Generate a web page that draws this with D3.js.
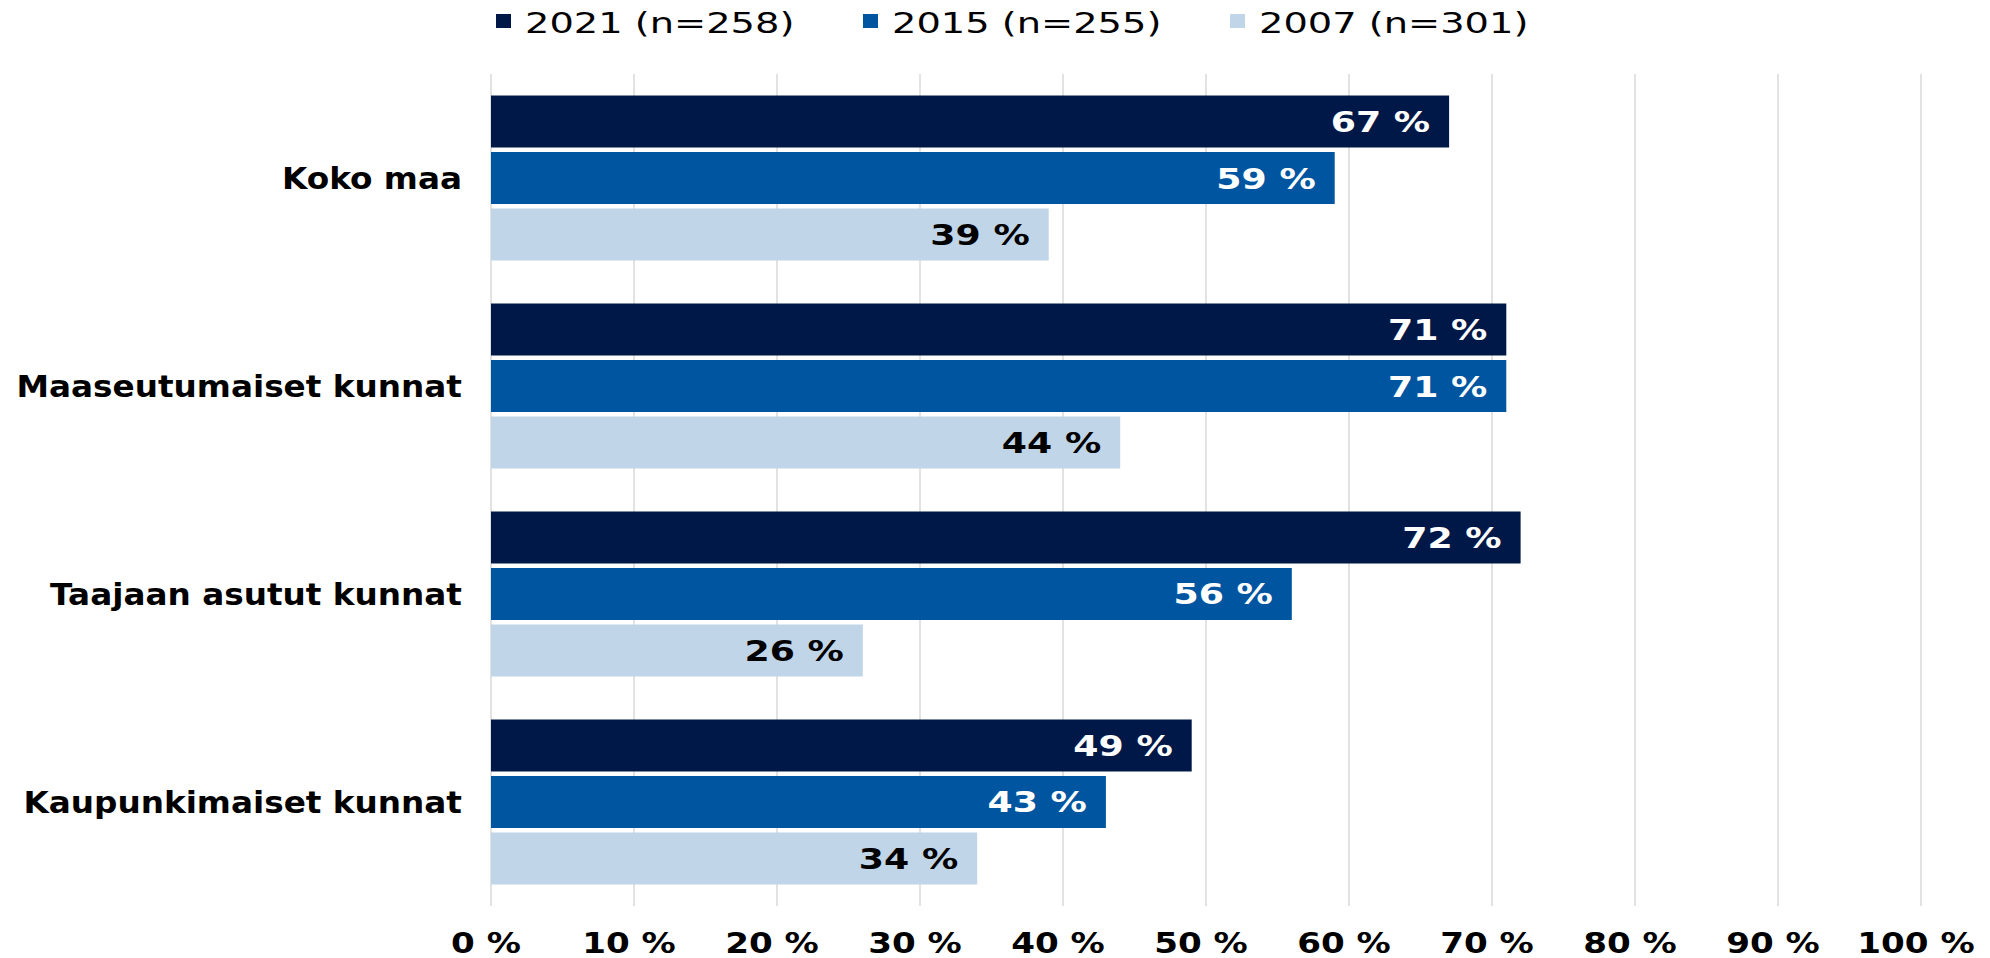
<!DOCTYPE html>
<html>
<head>
<meta charset="utf-8">
<script src="https://cdn.jsdelivr.net/npm/d3@7"></script>
<style>
  html, body { margin: 0; padding: 0; background: #fff; }
  svg { display: block; }
  text { font-family: "DejaVu Sans", Verdana, sans-serif; }
</style>
</head>
<body>
<svg id="chart" width="1990" height="958"></svg>
<script>
// data
const categories = ["Koko maa", "Maaseutumaiset kunnat", "Taajaan asutut kunnat", "Kaupunkimaiset kunnat"]
const seriesNames = ["2021 (n=258)", "2015 (n=255)", "2007 (n=301)"]
const values2021 = [67, 71, 72, 49]
const values2015 = [59, 71, 56, 43]
const values2007 = [39, 44, 26, 34]
const xTicks = [0, 10, 20, 30, 40, 50, 60, 70, 80, 90, 100]

const seriesValues = [values2021, values2015, values2007]
const colors = ["#001847", "#0055a0", "#c1d5e8"]
const labelColors = ["#ffffff", "#ffffff", "#000000"]

// the reference text is drawn wider than the font, so stretch horizontally
const legendStretch = 1.37
const catStretch = 1.09
const valueStretch = 1.25
const tickStretch = 1.22

const svg = d3.select("#chart")

const x = d3.scaleLinear().domain([0, 100]).range([491, 1921])

const plotTop = 74
const plotBottom = 906

const y0 = d3.scaleBand()
    .domain(categories)
    .range([plotTop, plotBottom])
    .paddingInner(0.2067)
    .paddingOuter(0.1034)

const y1 = d3.scaleBand()
    .domain(seriesNames)
    .range([0, y0.bandwidth()])
    .paddingInner(0.0796)

// gridlines
svg.append("g")
    .selectAll("line")
    .data(xTicks)
    .join("line")
    .attr("x1", d => x(d))
    .attr("x2", d => x(d))
    .attr("y1", plotTop)
    .attr("y2", plotBottom)
    .attr("stroke", "#d9d9d9")
    .attr("stroke-width", 1.5)

// tick labels
svg.append("g")
    .selectAll("text")
    .data(xTicks)
    .join("text")
    .attr("transform", d => `translate(${x(d) - 5},953) scale(${tickStretch},1)`)
    .attr("text-anchor", "middle")
    .attr("font-size", 28)
    .attr("font-weight", "bold")
    .attr("fill", "#000")
    .text(d => d + " %")

// bars grouped by category
const groups = svg.append("g")
    .selectAll("g")
    .data(categories)
    .join("g")
    .attr("transform", d => `translate(0,${y0(d)})`)

const rows = (c, i) => seriesNames.map((s, j) => ({ series: s, j: j, value: seriesValues[j][i] }))

groups.selectAll("rect")
    .data(rows)
    .join("rect")
    .attr("x", x(0))
    .attr("y", d => y1(d.series))
    .attr("width", d => x(d.value) - x(0))
    .attr("height", y1.bandwidth())
    .attr("fill", d => colors[d.j])

groups.selectAll("text.value")
    .data(rows)
    .join("text")
    .attr("class", "value")
    .attr("transform", d => `translate(${x(d.value) - 19},${y1(d.series) + y1.bandwidth() / 2 + 10.5}) scale(${valueStretch},1)`)
    .attr("text-anchor", "end")
    .attr("font-size", 29)
    .attr("font-weight", "bold")
    .attr("fill", d => labelColors[d.j])
    .text(d => d.value + " %")

// category labels
svg.append("g")
    .selectAll("text")
    .data(categories)
    .join("text")
    .attr("transform", d => `translate(462,${y0(d) + y0.bandwidth() / 2 + 11}) scale(${catStretch},1)`)
    .attr("text-anchor", "end")
    .attr("font-size", 30)
    .attr("font-weight", "bold")
    .attr("fill", "#000")
    .text(d => d)

// legend
const legendX = [496, 863, 1230]
const legend = svg.append("g")
    .selectAll("g")
    .data(seriesNames)
    .join("g")
    .attr("transform", (d, i) => `translate(${legendX[i]},0)`)

legend.append("rect")
    .attr("x", 0)
    .attr("y", 14)
    .attr("width", 15)
    .attr("height", 14)
    .attr("fill", (d, i) => colors[i])

legend.append("text")
    .attr("transform", `translate(29,33) scale(${legendStretch},1)`)
    .attr("font-size", 28)
    .attr("fill", "#000")
    .text(d => d)
</script>
</body>
</html>
